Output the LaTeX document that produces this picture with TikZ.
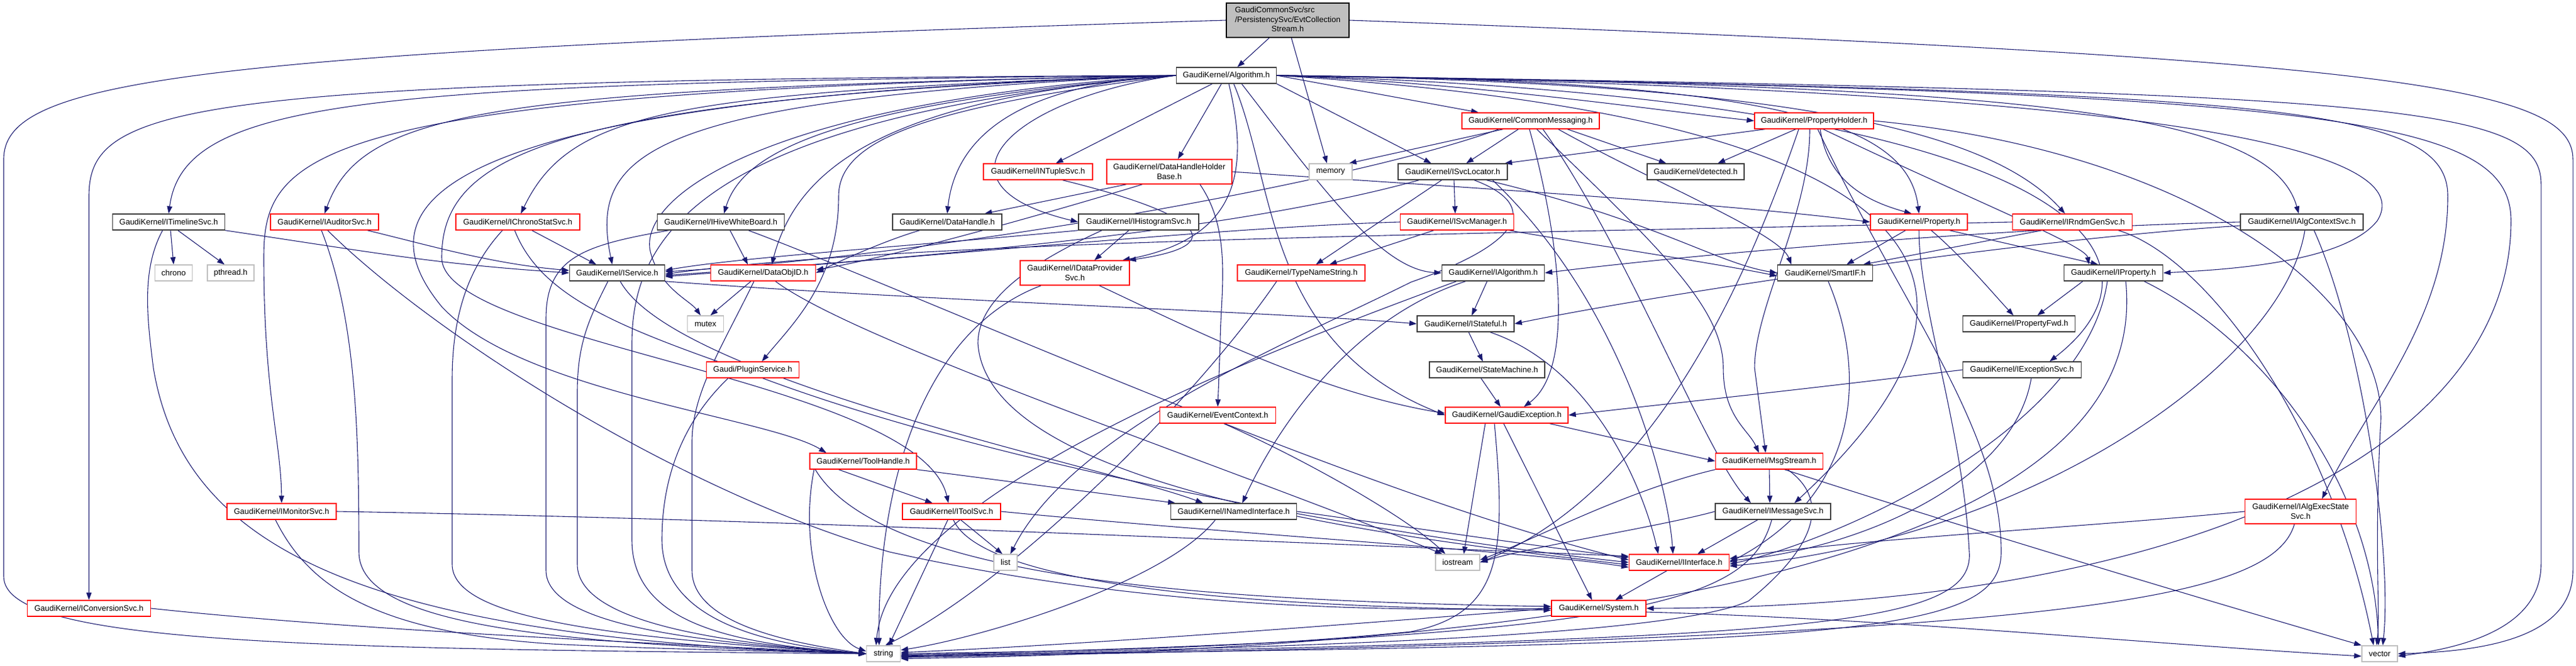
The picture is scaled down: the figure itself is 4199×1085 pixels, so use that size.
\documentclass[tikz,border=0pt]{standalone}
\usepackage{fontspec}
\setmainfont{Liberation Sans}
\usetikzlibrary{arrows.meta,backgrounds}
\definecolor{edgec}{RGB}{25,25,112}
\definecolor{redb}{RGB}{255,0,0}
\definecolor{blkb}{RGB}{60,60,60}
\definecolor{grayb}{RGB}{191,191,191}
\begin{document}
\begin{tikzpicture}[x=1pt,y=-1pt,
 nb/.style={draw, rectangle, inner sep=0pt, minimum height=26pt, fill=white, font=\fontsize{13}{15.6}\selectfont, line width=1.4pt, align=center},
 bn/.style={nb, draw=blkb},
 rn/.style={nb, draw=redb},
 gn/.style={nb, draw=grayb},
 e/.style={draw=edgec, line width=1.1pt, -{Triangle[length=12pt,width=8.5pt]}}]
\useasboundingbox (0,0) rectangle (4199,1085);
% nodes
\node[nb, draw=black, fill=grayb, minimum width=200pt, minimum height=56pt] (main) at (2099,33) {\begin{tabular}{@{}l@{}}GaudiCommonSvc/src\\/PersistencySvc/EvtCollection\\\multicolumn{1}{@{}c@{}}{Stream.h}\end{tabular}};
\node[bn, minimum width=163pt] (alg) at (1999,123) {GaudiKernel/Algorithm.h};
\node[bn, minimum width=183pt] (timeline) at (275,362) {GaudiKernel/ITimelineSvc.h};
\node[rn, minimum width=176pt] (auditor) at (529,362) {GaudiKernel/IAuditorSvc.h};
\node[gn, minimum width=61pt] (chrono) at (283,445) {chrono};
\node[gn, minimum width=76pt] (pthread) at (376,445) {pthread.h};
\node[rn, minimum width=202pt] (chronostat) at (844,362) {GaudiKernel/IChronoStatSvc.h};
\node[bn, minimum width=207pt] (hive) at (1175,362) {GaudiKernel/IHiveWhiteBoard.h};
\node[bn, minimum width=155pt] (iservice) at (1006,445) {GaudiKernel/IService.h};
\node[rn, minimum width=171pt] (dataobjid) at (1244,445) {GaudiKernel/DataObjID.h};
\node[gn, minimum width=59pt] (mutex) at (1150,528) {mutex};
\node[rn, minimum width=178pt] (ntuple) at (1692,280) {GaudiKernel/INTupleSvc.h};
\node[rn, minimum width=204pt, minimum height=40pt] (dhhb) at (1906,280) {GaudiKernel/DataHandleHolder\\Base.h};
\node[bn, minimum width=178pt] (datahandle) at (1544,362) {GaudiKernel/DataHandle.h};
\node[bn, minimum width=196pt] (histo) at (1856,362) {GaudiKernel/IHistogramSvc.h};
\node[rn, minimum width=178pt, minimum height=40pt] (dataprov) at (1752,445) {GaudiKernel/IDataProvider\\Svc.h};
\node[rn, minimum width=208pt] (typename) at (2121,445) {GaudiKernel/TypeNameString.h};
\node[rn, minimum width=224pt] (commonmsg) at (2495,197) {GaudiKernel/CommonMessaging.h};
\node[gn, minimum width=70pt] (memory) at (2169,280) {memory};
\node[bn, minimum width=178pt] (svcloc) at (2368,280) {GaudiKernel/ISvcLocator.h};
\node[bn, minimum width=158pt] (detected) at (2764,280) {GaudiKernel/detected.h};
\node[rn, minimum width=185pt] (svcmgr) at (2375,362) {GaudiKernel/ISvcManager.h};
\node[bn, minimum width=167pt] (ialgorithm) at (2434,445) {GaudiKernel/IAlgorithm.h};
\node[bn, minimum width=158pt] (istateful) at (2389,528) {GaudiKernel/IStateful.h};
\node[rn, minimum width=194pt] (propholder) at (2957,197) {GaudiKernel/PropertyHolder.h};
\node[rn, minimum width=158pt] (property) at (3128,362) {GaudiKernel/Property.h};
\node[rn, minimum width=195pt] (rndm) at (3378,362) {GaudiKernel/IRndmGenSvc.h};
\node[bn, minimum width=155pt] (smartif) at (2975,445) {GaudiKernel/SmartIF.h};
\node[bn, minimum width=161pt] (iproperty) at (3445,445) {GaudiKernel/IProperty.h};
\node[bn, minimum width=183pt] (propfwd) at (3291,528) {GaudiKernel/PropertyFwd.h};
\node[bn, minimum width=200pt] (algctx) at (3752,362) {GaudiKernel/IAlgContextSvc.h};
\node[rn, minimum width=178pt] (monitor) at (459,834) {GaudiKernel/IMonitorSvc.h};
\node[rn, minimum width=201pt] (conversion) at (145,992) {GaudiKernel/IConversionSvc.h};
\node[rn, minimum width=151pt] (plugin) at (1227,603) {Gaudi/PluginService.h};
\node[rn, minimum width=174pt] (toolhandle) at (1407,752) {GaudiKernel/ToolHandle.h};
\node[rn, minimum width=189pt] (eventctx) at (1985,677) {GaudiKernel/EventContext.h};
\node[rn, minimum width=160pt] (itoolsvc) at (1551,834) {GaudiKernel/IToolSvc.h};
\node[bn, minimum width=205pt] (named) at (2011,834) {GaudiKernel/INamedInterface.h};
\node[gn, minimum width=38pt] (list) at (1639,917) {list};
\node[gn, minimum width=55pt] (string) at (1440,1066) {string};
\node[bn, minimum width=188pt] (statemachine) at (2424,603) {GaudiKernel/StateMachine.h};
\node[rn, minimum width=200pt] (gaudiexc) at (2456,677) {GaudiKernel/GaudiException.h};
\node[gn, minimum width=72pt] (iostream) at (2376,917) {iostream};
\node[rn, minimum width=163pt] (iinterface) at (2737,917) {GaudiKernel/IInterface.h};
\node[rn, minimum width=154pt] (system) at (2606,992) {GaudiKernel/System.h};
\node[rn, minimum width=175pt] (msgstream) at (2884,752) {GaudiKernel/MsgStream.h};
\node[bn, minimum width=188pt] (imsgsvc) at (2890,834) {GaudiKernel/IMessageSvc.h};
\node[bn, minimum width=193pt] (excsvc) at (3296,603) {GaudiKernel/IExceptionSvc.h};
\node[rn, minimum width=181pt, minimum height=40pt] (algexec) at (3750,834) {GaudiKernel/IAlgExecState\\Svc.h};
\node[gn, minimum width=58pt] (vector) at (3879,1066) {vector};
\begin{pgfonlayer}{background}
% main
\draw[e] ([xshift=-30pt]main.south) -- ([xshift=18pt]alg.north);
\draw[e] ([xshift=6pt]main.south) -- ([xshift=-6pt]memory.north);
\draw[e] (main.west) .. controls (300,85) and (6,130) .. (6,260) -- (6,940) .. controls (6,1050) and (500,1058) .. (string.west);
\draw[e] (main.east) .. controls (3900,95) and (4194,140) .. (4194,260) -- (4194,930) .. controls (4194,1040) and (4050,1062) .. (vector.east);
% alg left
\draw[e] (alg.west) .. controls (300,130) and (145,170) .. (145,320) -- (conversion.north);
\draw[e] (alg.west) .. controls (600,135) and (300,160) .. (timeline.north);
\draw[e] (alg.west) .. controls (500,150) and (430,250) .. (430,420) .. controls (430,640) and (458,720) .. (monitor.north);
\draw[e] (alg.west) .. controls (800,145) and (590,180) .. (auditor.north);
\draw[e] (alg.west) .. controls (700,160) and (580,330) .. (720,500) .. controls (850,640) and (1250,680) .. ([xshift=-60pt]toolhandle.north);
\draw[e] (alg.west) .. controls (1100,150) and (930,180) .. ([xshift=5pt]chronostat.north);
\draw[e] (alg.west) .. controls (900,160) and (720,250) .. (720,420) .. controls (720,560) and (1500,620) .. ([xshift=-5pt]itoolsvc.north);
\draw[e] (alg.west) .. controls (1050,160) and (960,250) .. ([xshift=-8pt]iservice.north);
\draw[e] (alg.west) .. controls (1250,165) and (1040,320) .. (1060,410) .. controls (1075,470) and (1125,490) .. ([xshift=-8pt]mutex.north);
\draw[e] (alg.west) .. controls (1350,170) and (1210,250) .. ([xshift=5pt]hive.north);
\draw[e] (alg.west) .. controls (1450,160) and (1300,270) .. ([xshift=14pt]dataobjid.north);
\draw[e] (alg.west) .. controls (1500,175) and (1367,230) .. (1367,320) .. controls (1367,460) and (1290,530) .. ([xshift=15pt]plugin.north);
\draw[e] (alg.west) .. controls (1700,135) and (1560,200) .. (datahandle.north);
\draw[e] (alg.west) .. controls (1650,160) and (1500,300) .. (histo.west);
\draw[e] (alg.west) .. controls (1150,190) and (1030,380) .. (1030,560) -- (1030,880) .. controls (1030,1020) and (1200,1050) .. (string.west);
% alg down
\draw[e] ([xshift=-23pt]alg.south) -- ([xshift=29pt]ntuple.north);
\draw[e] ([xshift=-8pt]alg.south) -- ([xshift=14pt]dhhb.north);
\draw[e] ([xshift=4pt]alg.south) .. controls (2040,290) and (2010,390) .. ([xshift=-12pt]dataprov.north east);
\draw[e] ([xshift=12pt]alg.south) .. controls (2080,300) and (2060,560) .. (gaudiexc.west);
\draw[e] ([xshift=25pt]alg.south) .. controls (2150,300) and (2250,440) .. (ialgorithm.west);
% alg right
\draw[e] (alg.east) -- ([xshift=-85pt]commonmsg.north);
\draw[e] (alg.south east) -- ([xshift=-35pt]svcloc.north);
\draw[e] (alg.east) .. controls (2400,135) and (2700,180) .. (propholder.west);
\draw[e] (alg.east) .. controls (2900,130) and (3110,200) .. (property.north);
\draw[e] (alg.east) .. controls (2950,135) and (3250,220) .. ([xshift=-12pt]rndm.north);
\draw[e] (alg.east) .. controls (3300,140) and (3700,180) .. ([xshift=-5pt]algctx.north);
\draw[e] (alg.east) .. controls (3500,145) and (3950,240) .. (3875,360) .. controls (3820,430) and (3620,440) .. (iproperty.east);
\draw[e] (alg.east) .. controls (3700,150) and (3990,170) .. (3990,320) .. controls (3990,520) and (3860,660) .. ([xshift=35pt]algexec.north);
\draw[e] (alg.east) .. controls (3900,150) and (4142,170) .. (4142,300) -- (4142,920) .. controls (4142,1030) and (4000,1058) .. ([yshift=-4pt]vector.east);
\draw[e] (alg.east) .. controls (3800,150) and (4093,190) .. (4093,360) .. controls (4093,720) and (3600,990) .. (system.east);
\draw[e] (alg.east) .. controls (3400,160) and (3560,420) .. ([xshift=45pt]excsvc.north);
\draw[e] (alg.east) .. controls (3300,200) and (3250,520) .. ([xshift=35pt]imsgsvc.north);
% timeline
\draw[e] ([xshift=3pt]timeline.south) -- (chrono.north);
\draw[e] ([xshift=15pt]timeline.south) -- ([xshift=-10pt]pthread.north);
\draw[e] ([xshift=-10pt]timeline.south) .. controls (230,440) and (240,520) .. (250,600) .. controls (300,900) and (600,1040) .. (string.west);
\draw[e] (timeline.south east) .. controls (600,410) and (700,430) .. (iservice.west);
% auditor
\draw[e] ([xshift=70pt]auditor.south) .. controls (700,400) and (800,430) .. ([yshift=4pt]iservice.west);
\draw[e] ([xshift=-5pt]auditor.south) .. controls (580,520) and (585,700) .. (585,900) .. controls (585,1020) and (900,1050) .. (string.west);
\draw[e] ([xshift=5pt]auditor.south) .. controls (700,540) and (1100,800) .. (1450,900) .. controls (1900,1000) and (2300,995) .. (system.west);
% chronostat
\draw[e] ([xshift=23pt]chronostat.south) -- ([xshift=-34pt]iservice.north);
\draw[e] ([xshift=-25pt]chronostat.south) .. controls (760,440) and (737,520) .. (737,620) -- (737,920) .. controls (737,1010) and (1000,1040) .. (string.west);
\draw[e] ([xshift=-5pt]chronostat.south) .. controls (880,480) and (1000,530) .. (1200,600) .. controls (1600,760) and (2300,880) .. (iinterface.west);
% hive
\draw[e] ([xshift=15pt]hive.south) -- ([xshift=-25pt]dataobjid.north);
\draw[e] ([xshift=-85pt]hive.south) .. controls (950,400) and (890,420) .. (890,520) -- (890,930) .. controls (890,1030) and (1200,1050) .. (string.west);
\draw[e] ([xshift=45pt]hive.south) .. controls (1500,480) and (2200,800) .. ([yshift=4pt]iinterface.west);
% iservice
\draw[e] ([xshift=-15pt]iservice.south) .. controls (960,520) and (941,560) .. (941,640) -- (941,920) .. controls (941,1020) and (1200,1050) .. (string.west);
\draw[e] ([xshift=5pt]iservice.south) .. controls (1100,620) and (1800,760) .. ([xshift=-50pt]named.north);
\draw[e] (iservice.south east) .. controls (1500,490) and (2100,510) .. (istateful.west);
% dataobjid
\draw[e] ([xshift=-20pt]dataobjid.south) -- ([xshift=8pt]mutex.north);
\draw[e] ([xshift=-15pt]dataobjid.south) .. controls (1180,560) and (1128,640) .. (1128,720) -- (1128,930) .. controls (1128,1020) and (1300,1050) .. (string.west);
\draw[e] ([xshift=20pt]dataobjid.south) .. controls (1400,560) and (2000,760) .. ([xshift=-25pt]iostream.north);
% datahandle, dhhb
\draw[e] ([xshift=-45pt]datahandle.south) .. controls (1450,390) and (1380,420) .. (dataobjid.east);
\draw[e] ([xshift=-70pt]dhhb.south) -- ([xshift=61pt]datahandle.north);
\draw[e] ([xshift=-44pt]dhhb.south) .. controls (1700,350) and (1450,420) .. ([yshift=5pt]dataobjid.east);
\draw[e] (dhhb.east) .. controls (2300,300) and (2800,330) .. (property.west);
\draw[e] ([xshift=50pt]dhhb.south) .. controls (2010,380) and (1989,480) .. (1989,560) -- (eventctx.north);
% histo, ntuple, dataprov
\draw[e] ([xshift=-16pt]histo.south) -- ([xshift=32pt]dataprov.north);
\draw[e] (histo.south west) .. controls (1500,400) and (1200,420) .. ([yshift=4pt]iservice.east);
\draw[e] ([xshift=-60pt]histo.south) .. controls (1700,420) and (1594,480) .. (1594,560) .. controls (1610,800) and (2300,880) .. ([yshift=-4pt]iinterface.west);
\draw[e] ([xshift=40pt]ntuple.south) .. controls (1960,350) and (2010,400) .. ([xshift=-2pt]dataprov.north east);
\draw[e] ([xshift=-55pt]dataprov.south) .. controls (1500,540) and (1430,800) .. ([xshift=-7pt]string.north);
\draw[e] ([xshift=40pt]dataprov.south) .. controls (1950,540) and (2150,640) .. ([yshift=3pt]gaudiexc.west);
% typename
\draw[e] ([xshift=-40pt]typename.south) .. controls (1950,650) and (1650,950) .. ([xshift=3pt]string.north);
% commonmsg
\draw[e] ([xshift=-45pt]commonmsg.south) -- ([xshift=30pt]memory.north);
\draw[e] ([xshift=-52pt]commonmsg.south) .. controls (2200,300) and (1500,420) .. ([yshift=2pt]iservice.east);
\draw[e] ([xshift=-20pt]commonmsg.south) -- ([xshift=22pt]svcloc.north);
\draw[e] ([xshift=-2pt]commonmsg.south) .. controls (2540,380) and (2570,600) .. ([xshift=28pt]gaudiexc.north);
\draw[e] ([xshift=10pt]commonmsg.south) .. controls (2700,400) and (2809,500) .. (2809,600) .. controls (2809,680) and (2850,700) .. ([xshift=-17pt]msgstream.north);
\draw[e] ([xshift=20pt]commonmsg.south) .. controls (2650,400) and (2780,740) .. ([xshift=-36pt]imsgsvc.north);
\draw[e] ([xshift=45pt]commonmsg.south) .. controls (2700,300) and (2900,380) .. ([xshift=-55pt]smartif.north);
\draw[e] ([xshift=60pt]commonmsg.south) -- ([xshift=-48pt]detected.north);
% propholder
\draw[e] ([xshift=-80pt]propholder.south) -- ([xshift=-5pt]svcloc.north east);
\draw[e] ([xshift=-30pt]propholder.south) -- ([xshift=36pt]detected.north);
\draw[e] ([xshift=10pt]propholder.south) .. controls (2980,300) and (3050,330) .. ([xshift=-12pt]property.north);
\draw[e] ([xshift=15pt]propholder.south) .. controls (3200,320) and (3400,400) .. ([xshift=-40pt]iproperty.north);
\draw[e] (propholder.east) .. controls (3600,250) and (3900,500) .. (3880,700) .. controls (3870,900) and (3880,1000) .. ([xshift=-5pt]vector.north);
\draw[e] ([xshift=-7pt]propholder.south) .. controls (2950,350) and (2860,500) .. (2860,600) -- ([xshift=-6pt]msgstream.north);
\draw[e] ([xshift=6pt]propholder.south) .. controls (3100,500) and (3262,700) .. (3262,900) .. controls (3262,1040) and (3000,1050) .. ([yshift=-3pt]string.east);
\draw[e] ([xshift=-25pt]propholder.south) .. controls (2850,450) and (2700,800) .. (iostream.east);
% property
\draw[e] ([xshift=-22pt]property.south) -- ([xshift=35pt]smartif.north);
\draw[e] ([xshift=20pt]property.south) .. controls (3200,420) and (3250,480) .. ([xshift=-9pt]propfwd.north);
\draw[e] ([xshift=50pt]property.south) -- ([xshift=-25pt]iproperty.north);
\draw[e] (property.south) .. controls (3128,500) and (3200,700) .. (3210,900) .. controls (3220,1030) and (2900,1040) .. ([yshift=-5pt]string.east);
% rndm
\draw[e] ([xshift=-50pt]rndm.south) -- ([xshift=62pt]smartif.north);
\draw[e] (rndm.west) .. controls (2500,380) and (1500,390) .. ([yshift=-2pt]iservice.east);
\draw[e] ([xshift=75pt]rndm.south) .. controls (3600,420) and (3800,700) .. ([xshift=-10pt]vector.north);
% smartif, iproperty
\draw[e] ([xshift=5pt]smartif.south) .. controls (3040,600) and (3040,800) .. (iinterface.east);
\draw[e] ([xshift=-50pt]iproperty.south) -- ([xshift=30pt]propfwd.north);
\draw[e] ([xshift=-10pt]iproperty.south) .. controls (3400,700) and (3000,880) .. ([yshift=-3pt]iinterface.east);
\draw[e] ([xshift=20pt]iproperty.south) .. controls (3500,800) and (3000,1050) .. ([yshift=-8pt]string.east);
\draw[e] ([xshift=50pt]iproperty.south) .. controls (3700,560) and (3870,800) .. ([xshift=-2pt]vector.north);
% algctx
\draw[e] (algctx.west) .. controls (3300,370) and (2800,410) .. (ialgorithm.east);
\draw[e] ([yshift=-6pt]algctx.west) .. controls (3300,390) and (2700,480) .. (istateful.east);
\draw[e] ([xshift=5pt]algctx.south) .. controls (3720,600) and (3300,880) .. ([yshift=-6pt]iinterface.east);
\draw[e] ([xshift=20pt]algctx.south) .. controls (3850,550) and (3900,900) .. ([xshift=5pt]vector.north);
% excsvc, algexec
\draw[e] (excsvc.west) .. controls (2900,640) and (2700,660) .. (gaudiexc.east);
\draw[e] ([xshift=15pt]excsvc.south) .. controls (3280,800) and (3000,900) .. ([yshift=3pt]iinterface.east);
\draw[e] (algexec.west) .. controls (3400,860) and (3000,880) .. ([yshift=6pt]iinterface.east);
\draw[e] ([xshift=-10pt]algexec.south) .. controls (3700,990) and (3300,1040) .. ([yshift=-6pt]string.east);
% msgstream, imsgsvc
\draw[e] (msgstream.south) -- ([xshift=-5pt]imsgsvc.north);
\draw[e] ([xshift=25pt]msgstream.south) .. controls (3200,860) and (3600,980) .. (vector.north west);
\draw[e] ([xshift=30pt]msgstream.south) .. controls (2990,820) and (2950,900) .. (2850,980) .. controls (2700,1050) and (1800,1060) .. ([yshift=-4pt]string.east);
\draw[e] (msgstream.south west) .. controls (2650,800) and (2500,880) .. ([yshift=4pt]iostream.east);
\draw[e] ([xshift=-25pt]imsgsvc.south) -- ([xshift=30pt]iinterface.north);
\draw[e] (imsgsvc.west) .. controls (2700,860) and (2500,890) .. (iostream.east);
\draw[e] ([xshift=-2pt]imsgsvc.south) .. controls (2850,980) and (2700,1040) .. ([yshift=-2pt]string.east);
% iinterface, system
\draw[e] ([xshift=-20pt]iinterface.south) -- ([xshift=27pt]system.north);
\draw[e] (system.west) .. controls (2300,1010) and (1800,1050) .. ([yshift=2pt]string.east);
\draw[e] ([yshift=-6pt]system.east) .. controls (3100,1010) and (3500,1050) .. ([yshift=-4pt]vector.west);
% gaudiexc, statemachine, istateful, ialgorithm
\draw[e] ([xshift=-35pt]gaudiexc.south) -- ([xshift=10pt]iostream.north);
\draw[e] ([xshift=-20pt]gaudiexc.south) .. controls (2455,900) and (2450,1000) .. (2300,1030) .. controls (2000,1060) and (1700,1062) .. (string.east);
\draw[e] ([xshift=-5pt]gaudiexc.south) -- ([xshift=-11pt]system.north);
\draw[e] ([xshift=70pt]gaudiexc.south) -- (msgstream.west);
\draw[e] ([xshift=-10pt]statemachine.south) -- ([xshift=-10pt]gaudiexc.north);
\draw[e] ([xshift=5pt]istateful.south) -- ([xshift=-7pt]statemachine.north);
\draw[e] ([xshift=40pt]istateful.south) .. controls (2600,600) and (2680,800) .. ([xshift=-34pt]iinterface.north);
\draw[e] ([xshift=-10pt]ialgorithm.south) -- ([xshift=10pt]istateful.north);
\draw[e] ([xshift=-45pt]ialgorithm.south) .. controls (2200,520) and (2080,700) .. ([xshift=14pt]named.north);
\draw[e] ([xshift=-60pt]ialgorithm.south) .. controls (2100,560) and (1450,800) .. ([xshift=-12pt]string.north);
% named, toolhandle, itoolsvc
\draw[e] ([xshift=-30pt]named.south) .. controls (1900,950) and (1600,1040) .. ([yshift=6pt]string.east);
\draw[e] (named.east) .. controls (2300,860) and (2500,890) .. ([yshift=8pt]iinterface.west);
\draw[e] ([xshift=-40pt]toolhandle.south) -- ([xshift=-31pt]itoolsvc.north);
\draw[e] (toolhandle.south east) -- ([xshift=-95pt]named.north);
\draw[e] ([xshift=-80pt]toolhandle.south) .. controls (1300,900) and (1350,1040) .. ([yshift=4pt]string.west);
\draw[e] ([xshift=-78pt]toolhandle.south) .. controls (1440,950) and (2000,980) .. ([yshift=3pt]system.west);
\draw[e] ([xshift=-6pt]itoolsvc.south) -- ([xshift=9pt]string.north);
\draw[e] ([xshift=3pt]itoolsvc.south) .. controls (1600,950) and (2000,990) .. ([yshift=-3pt]system.west);
\draw[e] ([xshift=15pt]itoolsvc.south) -- ([xshift=-5pt]list.north);
\draw[e] (itoolsvc.east) .. controls (2000,870) and (2500,900) .. ([yshift=-8pt]iinterface.west);
% svcloc, svcmgr
\draw[e] ([xshift=-18pt]svcloc.south) -- ([xshift=24pt]typename.north);
\draw[e] ([xshift=2pt]svcloc.south) -- ([xshift=-3pt]svcmgr.north);
\draw[e] ([xshift=-55pt]svcloc.south) .. controls (2000,380) and (1500,420) .. ([yshift=-4pt]iservice.east);
\draw[e] ([xshift=35pt]svcloc.south) .. controls (2500,330) and (2500,390) .. (2300,460) .. controls (2100,560) and (1750,700) .. ([xshift=8pt]list.north);
\draw[e] ([xshift=55pt]svcloc.south) .. controls (2700,360) and (2800,430) .. (smartif.west);
\draw[e] ([xshift=65pt]svcloc.south) .. controls (2650,500) and (2720,800) .. ([xshift=-10pt]iinterface.north);
\draw[e] ([xshift=-38pt]svcmgr.south) -- ([xshift=46pt]typename.north);
\draw[e] (svcmgr.west) .. controls (2000,370) and (1500,420) .. ([yshift=-6pt]iservice.east);
\draw[e] ([xshift=85pt]svcmgr.south) .. controls (2600,400) and (2800,430) .. ([yshift=-5pt]smartif.west);
% eventctx, plugin, monitor, conversion
\draw[e] ([xshift=10pt]eventctx.south) .. controls (2150,760) and (2300,850) .. ([xshift=-20pt]iostream.north);
\draw[e] ([xshift=-40pt]plugin.south) .. controls (1100,700) and (1079,800) .. (1079,880) .. controls (1079,1030) and (1300,1055) .. (string.west);
\draw[e] (monitor.east) .. controls (1200,845) and (2000,880) .. ([yshift=10pt]iinterface.west);
\draw[e] ([xshift=-10pt]monitor.south) .. controls (500,950) and (600,1030) .. (900,1050) .. controls (1100,1060) and (1300,1062) .. (string.west);
\draw[e] (conversion.east) .. controls (600,1030) and (1100,1050) .. (string.west);
\end{pgfonlayer}
\end{tikzpicture}
\end{document}
